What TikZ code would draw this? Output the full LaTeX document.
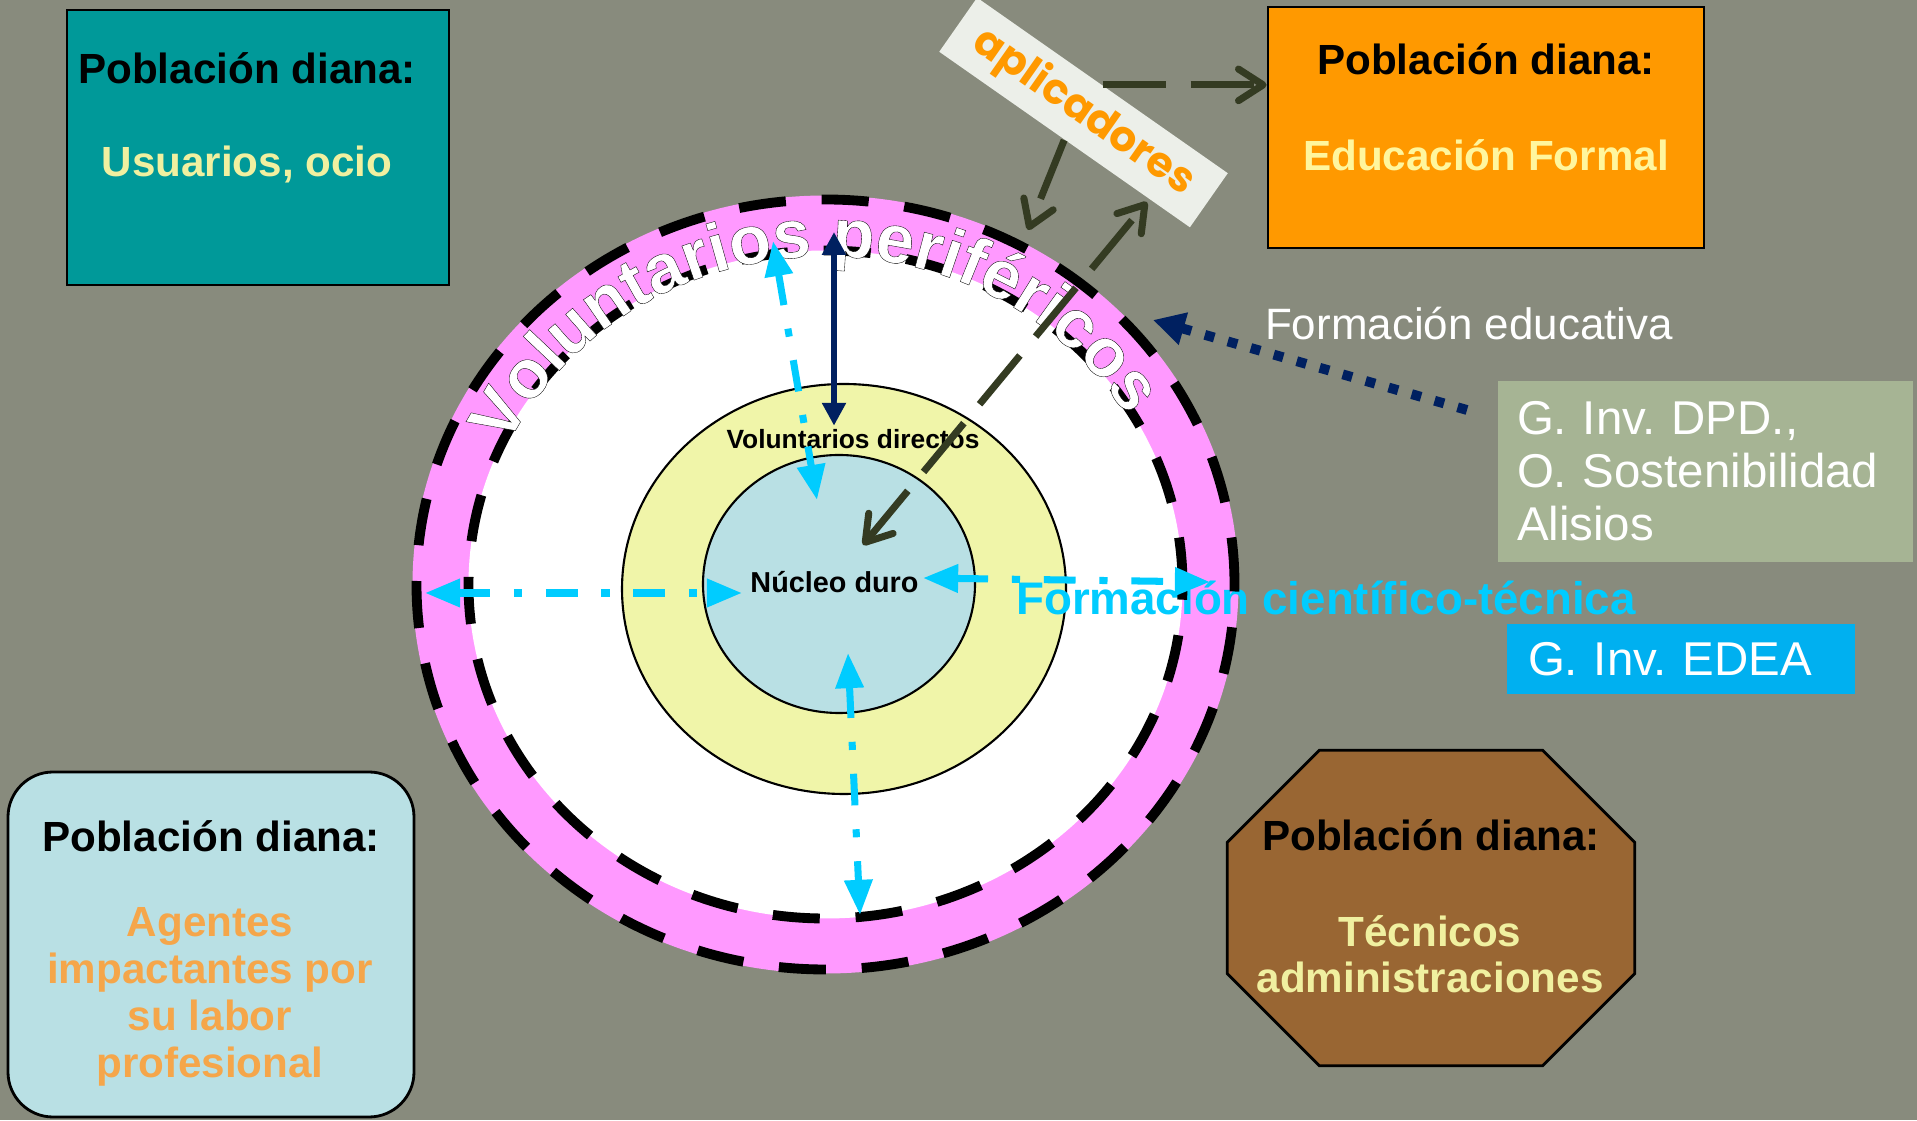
\documentclass[tikz,border=0pt]{standalone}
\usepackage{fontspec}
\setmainfont{Liberation Sans}
\newfontfamily\aplicfont{Poppins}
\newfontfamily\ringfont{Liberation Sans}[UprightFont={* Bold},FakeBold=0.5]
\usetikzlibrary{arrows.meta,positioning,decorations.text}
\frenchspacing

\definecolor{fondo}{RGB}{136,139,125}
\definecolor{tealbox}{RGB}{0,153,153}
\definecolor{naranja}{RGB}{255,153,0}
\definecolor{crema}{RGB}{240,240,160}
\definecolor{cremaclara}{RGB}{255,246,158}
\definecolor{celeste}{RGB}{185,224,228}
\definecolor{salmon}{RGB}{245,166,74}
\definecolor{marron}{RGB}{153,102,51}
\definecolor{salvia}{RGB}{166,180,148}
\definecolor{azuledea}{RGB}{0,176,240}
\definecolor{cian}{RGB}{0,204,255}
\definecolor{marino}{RGB}{0,32,96}
\definecolor{oliva}{RGB}{52,59,34}
\definecolor{rosa}{RGB}{255,153,255}
\definecolor{limon}{RGB}{240,245,169}
\definecolor{papel}{RGB}{236,239,233}

\begin{document}
\begin{tikzpicture}[
  box node/.style={draw=black,line width=0.8pt,inner sep=0pt},
  title node/.style={anchor=base,font=\fontsize{12}{14}\selectfont\bfseries},
  sub node/.style={title node,text=crema},
  cyan arrow/.style={<->,cian,line width=2pt,dash pattern=on 9pt off 6.8pt on 2.3pt off 6.8pt,
    >={Triangle[length=10pt,width=7.7pt]}},
  olive arrow/.style={oliva,line width=2pt,dash pattern=on 18pt off 7pt,
    >={Straight Barb[length=7pt,width=9pt,round]}},
  ring line/.style={black,line width=2.8pt,dash pattern=on 13.4pt off 10.2pt}]

 \fill[fondo] (0,0) rectangle (19.17,11.2);
 \useasboundingbox (0,0) rectangle (19.17,11.2);

 % circulos
 \coordinate (ringc) at (8.255,5.355);
 \fill[rosa] (ringc) ellipse [x radius=4.13,y radius=3.89];
 \fill[white] (ringc) ellipse [x radius=3.57,y radius=3.34];
 \draw[fill=limon,line width=0.6pt] (8.44,5.31) ellipse [x radius=2.22,y radius=2.05];
 \draw[fill=celeste,line width=0.6pt] (8.39,5.36) ellipse [x radius=1.36,y radius=1.29];

 \node[anchor=base,text=cian,font=\fontsize{13}{15}\selectfont\bfseries] (cientifica) at (13.26,5.05) {Formación científico-técnica};

 \draw[ring line] (ringc) ellipse [x radius=4.09,y radius=3.85];
 \draw[ring line] (ringc) ellipse [x radius=3.57,y radius=3.34];

 \path[decorate,decoration={text effects along path,text={Voluntarios periféricos},text align=center,
     text effects/.cd,text along path,
     characters={font=\fontsize{19.5}{19.5}\ringfont,
       execute at begin node={\special{pdf:bcolor [1 1 1] [0 0 0]}},
       execute at end node={\special{pdf:ecolor}}}}]
   (ringc) ++(183:3.51 and 3.28) arc[start angle=183,end angle=3,x radius=3.51,y radius=3.28];

 \node[anchor=base,inner sep=1pt,font=\fontsize{7.5}{9}\selectfont\bfseries] (voldir) at (8.53,6.71) {Voluntarios directos};
 \node[anchor=base,font=\fontsize{8.2}{10}\selectfont\bfseries] (nucleo) at (8.345,5.27) {Núcleo duro};

 % poblaciones diana
 \node[box node,fill=tealbox,minimum width=3.82cm,minimum height=2.75cm] (usuarios) at (2.58,9.725) {};
 \node[title node] (usuariost) at ([xshift=-0.11cm,yshift=-0.75cm]usuarios.north) {Población diana:};
 \node[sub node] (usuariosd) at ([xshift=-0.11cm,yshift=-1.68cm]usuarios.north) {Usuarios, ocio};

 \node[box node,fill=naranja,minimum width=4.36cm,minimum height=2.41cm] (formal) at (14.86,9.925) {};
 \node[title node] (formalt) at ([yshift=-0.69cm]formal.north) {Población diana:};
 \node[sub node,text=cremaclara] (formald) at ([yshift=-1.65cm]formal.north) {Educación Formal};

 \node[box node,fill=celeste,rounded corners=0.45cm,minimum width=4.06cm,minimum height=3.45cm] (agentes) at (2.11,1.755) {};
 \node[title node] (agentest) at ([yshift=-0.81cm]agentes.north) {Población diana:};
 \node[align=center,text=salmon,font=\fontsize{12}{13.4}\selectfont\bfseries] (agentesd) at (2.10,1.23) {Agentes\\impactantes por\\su labor\\profesional};

 \node[inner sep=0pt,minimum width=4.06cm,minimum height=3.14cm] (tecnicos) at (14.31,2.12) {};
 \draw[box node,fill=marron] ([xshift=0.92cm]tecnicos.north west) -- ([xshift=-0.92cm]tecnicos.north east)
   -- ([yshift=-0.92cm]tecnicos.north east) -- ([yshift=0.92cm]tecnicos.south east)
   -- ([xshift=-0.92cm]tecnicos.south east) -- ([xshift=0.92cm]tecnicos.south west)
   -- ([yshift=0.92cm]tecnicos.south west) -- ([yshift=-0.92cm]tecnicos.north west) -- cycle;
 \node[title node] (tecnicost) at ([yshift=-1.00cm]tecnicos.north) {Población diana:};
 \node[align=center,text=crema,font=\fontsize{12}{13.1}\selectfont\bfseries] (tecnicosd) at (14.30,1.655) {Técnicos\\administraciones};

 % grupos
 \node[fill=salvia,text=white,align=left,text width=3.77cm,inner xsep=0.19cm,minimum height=1.81cm,font=\fontsize{13.5}{15.1}\selectfont] (dpd) at (17.055,6.485) {G. Inv. DPD.,\\O. Sostenibilidad\\Alisios};
 \node[fill=azuledea,text=white,align=left,text width=3.06cm,inner xsep=0.21cm,minimum height=0.70cm,font=\fontsize{13.5}{15}\selectfont] (edea) at (16.81,4.61) {G. Inv. EDEA};
 \node[anchor=base,text=white,font=\fontsize{12.5}{15}\selectfont] (educativa) at (14.69,7.80) {Formación educativa};

 \node[fill=papel,rotate=-35,minimum width=3.06cm,minimum height=0.66cm,inner sep=0pt,text=naranja,font=\aplicfont\fontsize{12}{14}\selectfont\bfseries] (aplic) at (10.835,10.075) {aplicadores};

 % extremos de flechas
 \coordinate (ringtop) at (8.34,8.88);
 \coordinate (cyantop) at (7.73,8.79);
 \coordinate (cyantopin) at (8.17,6.20);
 \coordinate (cyanleft) at (4.25,5.27);
 \coordinate (cyanleftin) at (7.42,5.27);
 \coordinate (cyanrightin) at (9.23,5.42);
 \coordinate (cyanright) at (12.10,5.38);
 \coordinate (cyanbottomin) at (8.48,4.67);
 \coordinate (cyanbottom) at (8.60,2.05);
 \coordinate (olivein) at (8.63,5.75);
 \coordinate (oliveout) at (11.47,9.18);
 \coordinate (aplicdown) at (10.28,8.90);
 \coordinate (dotstart) at (14.67,7.10);
 \coordinate (dotend) at (11.53,8.00);

 \draw[<->,marino,line width=1.7pt,>={Triangle[length=6.5pt,width=6.5pt]}] (ringtop) -- (ringtop |- voldir.north);
 \draw[cyan arrow] (cyantop) -- (cyantopin);
 \draw[cyan arrow] (cyanleft) -- (cyanleftin);
 \draw[cyan arrow] (cyanrightin) -- (cyanright);
 \draw[cyan arrow] (cyanbottomin) -- (cyanbottom);
 \draw[olive arrow,<->] (olivein) -- (oliveout);
 \draw[olive arrow,->] (aplic.south) -- (aplicdown);
 \draw[olive arrow,->] (aplic.north) -- (aplic.north -| formal.west);
 \draw[->,marino,line width=2.8pt,dash pattern=on 2.8pt off 4pt,>={Triangle[length=9pt,width=9pt]}] (dotstart) -- (dotend);

\end{tikzpicture}
\end{document}
